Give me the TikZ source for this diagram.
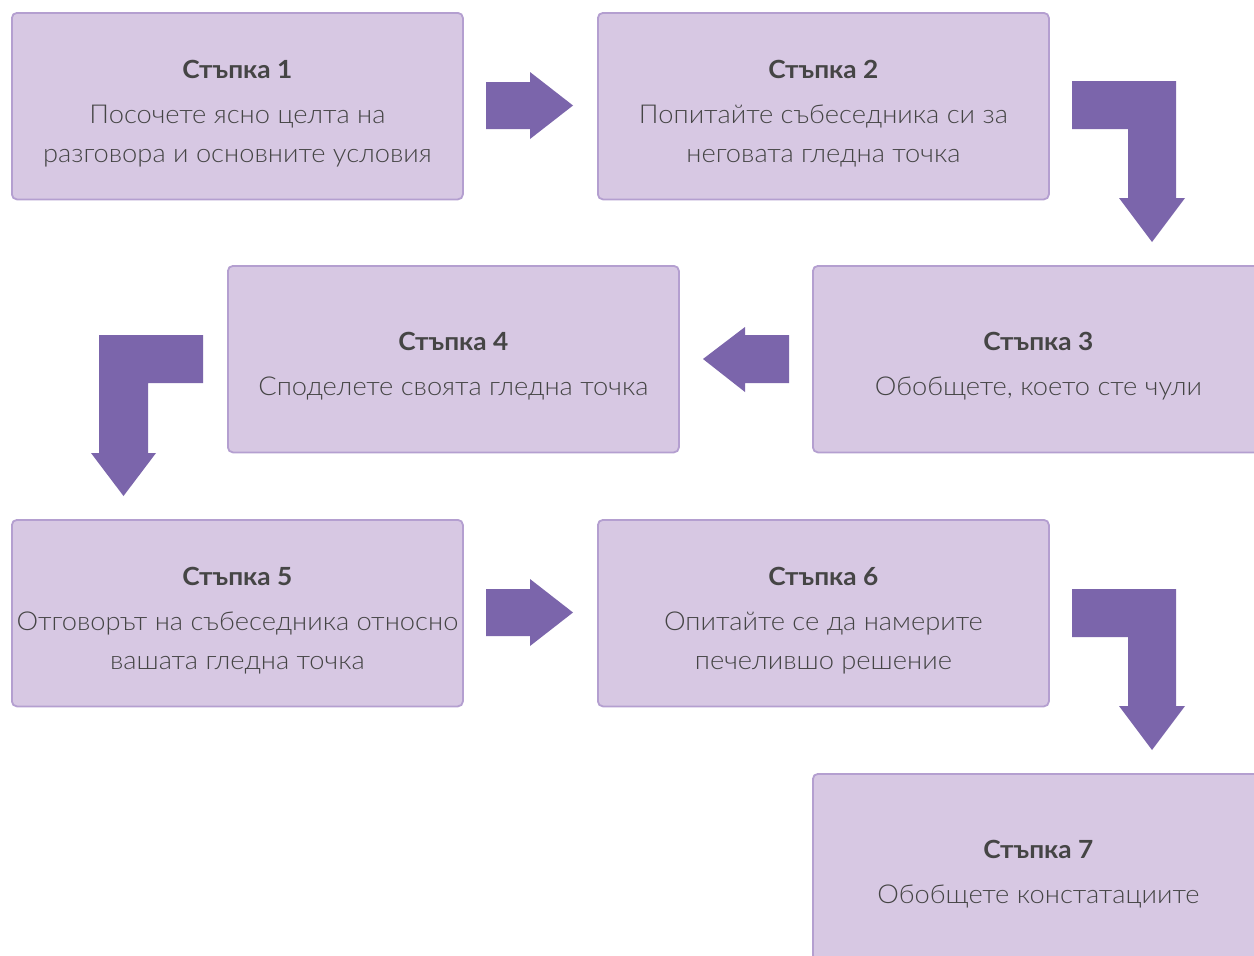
\documentclass[tikz,border=0pt]{standalone}
\usepackage{fontspec}
\setmainfont{Lato Light}[FakeStretch=1.05, BoldFont={Lato Bold}]
\definecolor{boxfill}{HTML}{D7C8E3}
\definecolor{boxline}{HTML}{B49FD0}
\definecolor{arrowc}{HTML}{7B65AB}
\definecolor{txt}{HTML}{454545}
\tikzset{
  stepbox/.style={draw=boxline, line width=1.8pt, fill=boxfill, rounded corners=5pt,
    minimum width=451pt, minimum height=186.5pt, anchor=north west, inner sep=0pt,
    align=center, text=txt, font=\fontsize{26}{39}\selectfont},
  blockarrow/.style={fill=arrowc, draw=none}
}
\newcommand{\steptitle}[1]{{\fontsize{25}{27}\selectfont\bfseries\rule{0pt}{33pt}#1}\\[6pt]}
\begin{document}
\begin{tikzpicture}[x=1pt,y=-1pt]
\useasboundingbox (0,0) rectangle (1254,956);
\clip (0,0) rectangle (1254,956);
\fill[white] (0,0) rectangle (1254,956);
\node[stepbox] (b1) at (11,12) {\steptitle{Стъпка 1}Посочете ясно целта на\\разговора и основните условия};
\node[stepbox] (b2) at (597,12) {\steptitle{Стъпка 2}Попитайте събеседника си за\\неговата гледна точка};
\node[stepbox] (b3) at (812,265) {\steptitle{Стъпка 3}Обобщете, което сте чули};
\node[stepbox] (b4) at (227,265) {\steptitle{Стъпка 4}Споделете своята гледна точка};
\node[stepbox] (b5) at (11,519) {\steptitle{Стъпка 5}Отговорът на събеседника относно\\вашата гледна точка};
\node[stepbox] (b6) at (597,519) {\steptitle{Стъпка 6}Опитайте се да намерите\\печелившо решение};
\node[stepbox] (b7) at (812,773) {\steptitle{Стъпка 7}Обобщете констатациите};
% arrows
\fill[blockarrow] (486,82) -- (530,82) -- (530,72) -- (573,105.5) -- (530,139) -- (530,129) -- (486,129) -- cycle;
\fill[blockarrow] (1072,81) -- (1176,81) -- (1176,198) -- (1185,198) -- (1152,242) -- (1119,198) -- (1128,198) -- (1128,129) -- (1072,129) -- cycle;
\fill[blockarrow] (789,335) -- (745,335) -- (745,327) -- (703,359) -- (745,392) -- (745,383) -- (789,383) -- cycle;
\fill[blockarrow] (203,335) -- (99,335) -- (99,453) -- (91,453) -- (123.5,496) -- (156,453) -- (148,453) -- (148,383) -- (203,383) -- cycle;
\fill[blockarrow] (486,589) -- (530,589) -- (530,579) -- (573,612.5) -- (530,646) -- (530,636) -- (486,636) -- cycle;
\fill[blockarrow] (1072,589) -- (1176,589) -- (1176,706) -- (1185,706) -- (1152,750) -- (1119,706) -- (1128,706) -- (1128,637) -- (1072,637) -- cycle;
\end{tikzpicture}
\end{document}
